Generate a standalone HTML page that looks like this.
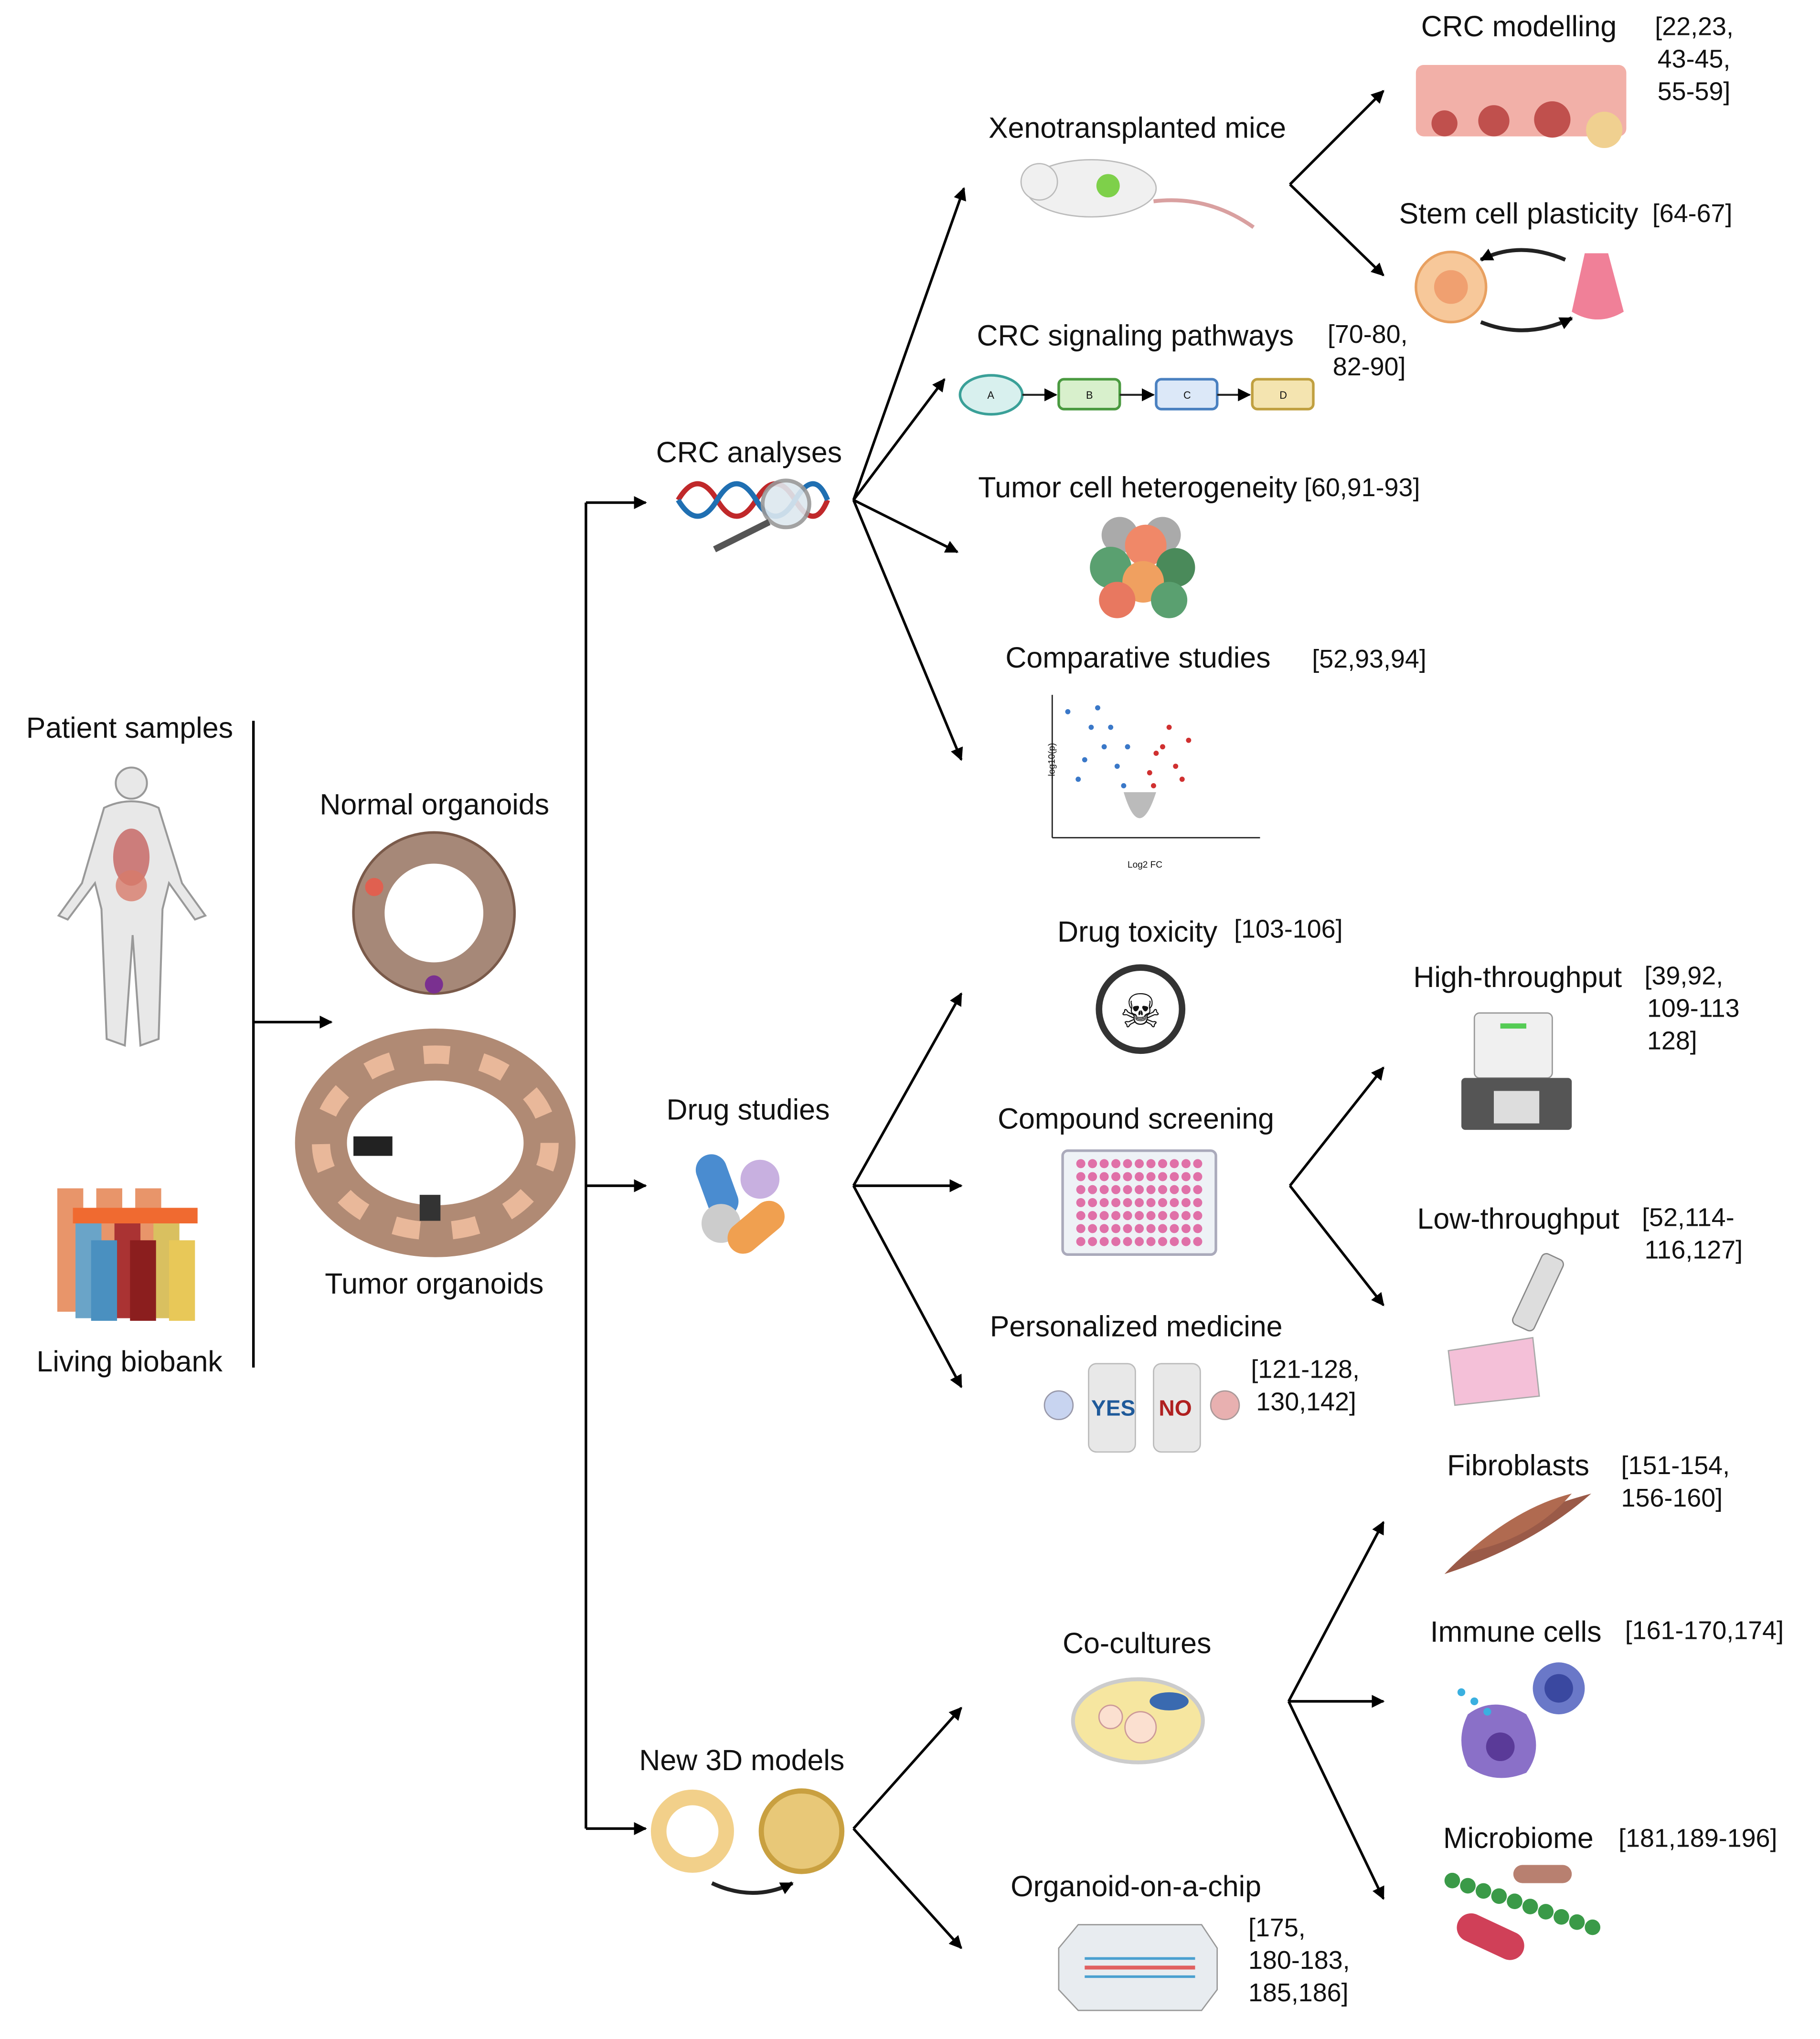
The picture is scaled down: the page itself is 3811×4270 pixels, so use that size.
<!DOCTYPE html>
<html><head><meta charset="utf-8">
<style>
html,body{margin:0;padding:0;background:#fff;}
svg{display:block;}
text{font-family:"Liberation Sans",Arial,sans-serif;fill:#111;}
</style></head>
<body>
<svg width="3811" height="4270" viewBox="0 0 1401 1570" xmlns="http://www.w3.org/2000/svg">
<defs>
<marker id="ah" markerWidth="10" markerHeight="10" refX="9" refY="5" orient="auto" markerUnits="userSpaceOnUse">
<path d="M0,0 L10,5 L0,10 z" fill="#000"/></marker>
</defs>
<g stroke="#000" stroke-width="2" fill="none">
<line x1="195" y1="555" x2="195" y2="1053"/>
<line x1="195" y1="787" x2="255" y2="787" marker-end="url(#ah)"/>
<line x1="451" y1="387" x2="451" y2="1408"/>
<line x1="451" y1="387" x2="497" y2="387" marker-end="url(#ah)"/>
<line x1="451" y1="913" x2="497" y2="913" marker-end="url(#ah)"/>
<line x1="451" y1="1408" x2="497" y2="1408" marker-end="url(#ah)"/>
<line x1="657" y1="385" x2="742" y2="145" marker-end="url(#ah)"/>
<line x1="657" y1="385" x2="727" y2="292" marker-end="url(#ah)"/>
<line x1="657" y1="385" x2="737" y2="425" marker-end="url(#ah)"/>
<line x1="657" y1="385" x2="740" y2="585" marker-end="url(#ah)"/>
<line x1="993" y1="142" x2="1065" y2="70" marker-end="url(#ah)"/>
<line x1="993" y1="142" x2="1065" y2="212" marker-end="url(#ah)"/>
<line x1="657" y1="913" x2="740" y2="765" marker-end="url(#ah)"/>
<line x1="657" y1="913" x2="740" y2="913" marker-end="url(#ah)"/>
<line x1="657" y1="913" x2="740" y2="1068" marker-end="url(#ah)"/>
<line x1="993" y1="913" x2="1065" y2="822" marker-end="url(#ah)"/>
<line x1="993" y1="913" x2="1065" y2="1005" marker-end="url(#ah)"/>
<line x1="657" y1="1408" x2="740" y2="1315" marker-end="url(#ah)"/>
<line x1="657" y1="1408" x2="740" y2="1500" marker-end="url(#ah)"/>
<line x1="992" y1="1310" x2="1065" y2="1172" marker-end="url(#ah)"/>
<line x1="992" y1="1310" x2="1065" y2="1310" marker-end="url(#ah)"/>
<line x1="992" y1="1310" x2="1065" y2="1462" marker-end="url(#ah)"/>
</g>

<g font-size="22.4">
<text x="20" y="568">Patient samples</text>
<text x="28" y="1056">Living biobank</text>
<text x="246" y="627">Normal organoids</text>
<text x="250" y="996">Tumor organoids</text>
<text x="505" y="356">CRC analyses</text>
<text x="513" y="862">Drug studies</text>
<text x="492" y="1363">New 3D models</text>
<text x="761" y="106">Xenotransplanted mice</text>
<text x="752" y="266">CRC signaling pathways</text>
<text x="753" y="383">Tumor cell heterogeneity</text>
<text x="774" y="514">Comparative studies</text>
<text x="814" y="725">Drug toxicity</text>
<text x="768" y="869">Compound screening</text>
<text x="762" y="1029">Personalized medicine</text>
<text x="818" y="1273">Co-cultures</text>
<text x="778" y="1460">Organoid-on-a-chip</text>
<text x="1094" y="28">CRC modelling</text>
<text x="1077" y="172">Stem cell plasticity</text>
<text x="1088" y="760">High-throughput</text>
<text x="1091" y="946">Low-throughput</text>
<text x="1114" y="1136">Fibroblasts</text>
<text x="1101" y="1264">Immune cells</text>
<text x="1111" y="1423">Microbiome</text>
</g>
<g font-size="19.8">
<text x="1274" y="27">[22,23,</text><text x="1276" y="52">43-45,</text><text x="1276" y="77">55-59]</text>
<text x="1272" y="171">[64-67]</text>
<text x="1022" y="264">[70-80,</text><text x="1026" y="289">82-90]</text>
<text x="1004" y="382">[60,91-93]</text>
<text x="1010" y="514">[52,93,94]</text>
<text x="950" y="722">[103-106]</text>
<text x="1266" y="758">[39,92,</text><text x="1268" y="783">109-113</text><text x="1268" y="808">128]</text>
<text x="1264" y="944">[52,114-</text><text x="1266" y="969">116,127]</text>
<text x="963" y="1061">[121-128,</text><text x="967" y="1086">130,142]</text>
<text x="1248" y="1135">[151-154,</text><text x="1248" y="1160">156-160]</text>
<text x="1251" y="1262">[161-170,174]</text>
<text x="1246" y="1422">[181,189-196]</text>
<text x="961" y="1491">[175,</text><text x="961" y="1516">180-183,</text><text x="961" y="1541">185,186]</text>
</g>

<!-- human -->
<g fill="#e8e8e8" stroke="#999" stroke-width="1.5">
<circle cx="101" cy="603" r="12"/>
<path d="M80,622 Q101,612 122,622 L140,680 L158,705 L150,708 L130,680 L125,700 L122,800 L108,805 L102,720 L96,805 L82,800 L78,700 L73,680 L52,708 L45,705 L63,680 Z"/>
</g>
<ellipse cx="101" cy="660" rx="14" ry="22" fill="#c0504d" opacity="0.7"/>
<ellipse cx="101" cy="682" rx="12" ry="12" fill="#d77a6a" opacity="0.8"/>
<!-- tubes -->
<g>
<rect x="44" y="915" width="20" height="95" fill="#e8956a"/><rect x="74" y="915" width="20" height="95" fill="#e8956a"/><rect x="104" y="915" width="20" height="95" fill="#e8956a"/>
<rect x="58" y="940" width="20" height="75" fill="#6aa4c8"/><rect x="88" y="940" width="20" height="75" fill="#a33"/><rect x="118" y="940" width="20" height="75" fill="#d9c060"/>
<rect x="70" y="955" width="20" height="62" fill="#4a90c0"/><rect x="100" y="955" width="20" height="62" fill="#8b1e1e"/><rect x="130" y="955" width="20" height="62" fill="#e8c858"/>
<rect x="56" y="930" width="96" height="12" fill="#f06a30"/>
</g>
<!-- normal organoid -->
<circle cx="334" cy="703" r="50" fill="none" stroke="#a68878" stroke-width="24"/>
<circle cx="334" cy="703" r="62" fill="none" stroke="#7a5a4a" stroke-width="2"/>
<circle cx="288" cy="683" r="7" fill="#e06050"/><circle cx="334" cy="758" r="7" fill="#7a3090"/>
<!-- tumor organoid -->
<ellipse cx="335" cy="880" rx="88" ry="68" fill="none" stroke="#b08a74" stroke-width="40"/>
<ellipse cx="335" cy="880" rx="88" ry="68" fill="none" stroke="#e9b89a" stroke-width="14" stroke-dasharray="20 25"/>
<rect x="272" y="875" width="30" height="15" fill="#222"/><rect x="323" y="920" width="16" height="20" fill="#333"/>

<!-- DNA -->
<path d="M522,385 q15,-25 30,0 t30,0 t30,0 t25,0" fill="none" stroke="#c0282a" stroke-width="4"/>
<path d="M522,385 q15,25 30,0 t30,0 t30,0 t25,0" fill="none" stroke="#1f6fb2" stroke-width="4"/>
<circle cx="605" cy="388" r="18" fill="#dde8ef" stroke="#999" stroke-width="3" opacity="0.9"/>
<line x1="592" y1="402" x2="550" y2="423" stroke="#555" stroke-width="5"/>
<!-- pills -->
<rect x="540" y="888" width="24" height="50" rx="12" fill="#4a8cd0" transform="rotate(-20 552 913)"/>
<circle cx="585" cy="908" r="15" fill="#c8b0e0"/>
<circle cx="555" cy="942" r="15" fill="#ccc"/>
<rect x="570" y="920" width="24" height="50" rx="12" fill="#f0a050" transform="rotate(50 582 945)"/>
<!-- 3D models -->
<circle cx="533" cy="1410" r="26" fill="none" stroke="#f2d08a" stroke-width="12"/>
<circle cx="617" cy="1410" r="31" fill="#e8c878" stroke="#c9a040" stroke-width="4"/>
<path d="M548,1450 Q580,1465 610,1450" fill="none" stroke="#222" stroke-width="3" marker-end="url(#ah)"/>

<!-- mouse -->
<ellipse cx="840" cy="145" rx="50" ry="22" fill="#f0f0f0" stroke="#bbb"/>
<circle cx="800" cy="140" r="14" fill="#f0f0f0" stroke="#bbb"/>
<circle cx="853" cy="143" r="9" fill="#7ed04a"/>
<path d="M888,155 Q930,150 965,175" fill="none" stroke="#d9a0a0" stroke-width="3"/>
<!-- CRC modelling -->
<rect x="1090" y="50" width="162" height="55" rx="6" fill="#f2b0a8"/>
<g fill="#c0504d"><circle cx="1112" cy="95" r="10"/><circle cx="1150" cy="93" r="12"/><circle cx="1195" cy="92" r="14"/></g>
<circle cx="1235" cy="100" r="14" fill="#f0d090"/>
<!-- stem cell -->
<circle cx="1117" cy="221" r="27" fill="#f7c89a" stroke="#e8a060" stroke-width="2"/><circle cx="1117" cy="221" r="13" fill="#f0a070"/>
<path d="M1220,195 L1238,195 L1250,240 Q1230,252 1210,240 Z" fill="#f08098"/>
<path d="M1205,200 Q1170,185 1140,200" fill="none" stroke="#222" stroke-width="3" marker-end="url(#ah)"/>
<path d="M1140,248 Q1175,262 1210,245" fill="none" stroke="#222" stroke-width="3" marker-end="url(#ah)"/>
<!-- pathway -->
<ellipse cx="763" cy="304" rx="24" ry="15" fill="#d8f0ee" stroke="#3aa098" stroke-width="2"/>
<rect x="815" y="292" width="47" height="23" rx="4" fill="#d8f0cc" stroke="#4a9a40" stroke-width="2"/>
<rect x="890" y="292" width="47" height="23" rx="4" fill="#dce8f8" stroke="#4a80c0" stroke-width="2"/>
<rect x="964" y="292" width="47" height="23" rx="4" fill="#f4e4b0" stroke="#c0a040" stroke-width="2"/>
<g stroke="#222" stroke-width="1.5"><line x1="787" y1="304" x2="813" y2="304" marker-end="url(#ah)"/><line x1="862" y1="304" x2="888" y2="304" marker-end="url(#ah)"/><line x1="937" y1="304" x2="962" y2="304" marker-end="url(#ah)"/></g>
<g font-size="8"><text x="760" y="307">A</text><text x="836" y="307">B</text><text x="911" y="307">C</text><text x="985" y="307">D</text></g>
<!-- heterogeneity -->
<g><circle cx="862" cy="412" r="14" fill="#aaa"/><circle cx="895" cy="412" r="14" fill="#aaa"/><circle cx="855" cy="437" r="16" fill="#5aa070"/><circle cx="882" cy="420" r="16" fill="#f08868"/><circle cx="905" cy="437" r="15" fill="#4a8a5a"/><circle cx="880" cy="448" r="16" fill="#f0a060"/><circle cx="860" cy="462" r="14" fill="#e87860"/><circle cx="900" cy="462" r="14" fill="#5aa070"/></g>
<!-- volcano -->
<g stroke="#222" stroke-width="1"><line x1="810" y1="535" x2="810" y2="645"/><line x1="810" y1="645" x2="970" y2="645"/></g>
<g fill="#3a78c8"><circle cx="840" cy="560" r="2"/><circle cx="850" cy="575" r="2"/><circle cx="860" cy="590" r="2"/><circle cx="830" cy="600" r="2"/><circle cx="845" cy="545" r="2"/><circle cx="865" cy="605" r="2"/><circle cx="855" cy="560" r="2"/><circle cx="835" cy="585" r="2"/><circle cx="868" cy="575" r="2"/><circle cx="822" cy="548" r="2"/></g>
<g fill="#d03030"><circle cx="890" cy="580" r="2"/><circle cx="900" cy="560" r="2"/><circle cx="910" cy="600" r="2"/><circle cx="885" cy="595" r="2"/><circle cx="895" cy="575" r="2"/><circle cx="915" cy="570" r="2"/><circle cx="905" cy="590" r="2"/><circle cx="888" cy="605" r="2"/></g>
<path d="M865,610 Q877,650 890,610" fill="#bbb"/>
<g font-size="7"><text x="868" y="668">Log2 FC</text><text x="782" y="610" transform="rotate(-90 792 590)">-log10(p)</text></g>
<!-- skull -->
<circle cx="878" cy="777" r="32" fill="#fff" stroke="#333" stroke-width="5"/>
<text x="878" y="791" font-size="36" text-anchor="middle">☠</text>
<!-- plate -->
<rect x="818" y="886" width="118" height="80" rx="4" fill="#eef2f6" stroke="#aab" stroke-width="2"/>
<g fill="#e070a8">
<circle cx="832" cy="896" r="3.5"/><circle cx="841" cy="896" r="3.5"/><circle cx="850" cy="896" r="3.5"/><circle cx="859" cy="896" r="3.5"/><circle cx="868" cy="896" r="3.5"/><circle cx="877" cy="896" r="3.5"/><circle cx="886" cy="896" r="3.5"/><circle cx="895" cy="896" r="3.5"/><circle cx="904" cy="896" r="3.5"/><circle cx="913" cy="896" r="3.5"/><circle cx="922" cy="896" r="3.5"/>
<circle cx="832" cy="906" r="3.5"/><circle cx="841" cy="906" r="3.5"/><circle cx="850" cy="906" r="3.5"/><circle cx="859" cy="906" r="3.5"/><circle cx="868" cy="906" r="3.5"/><circle cx="877" cy="906" r="3.5"/><circle cx="886" cy="906" r="3.5"/><circle cx="895" cy="906" r="3.5"/><circle cx="904" cy="906" r="3.5"/><circle cx="913" cy="906" r="3.5"/><circle cx="922" cy="906" r="3.5"/>
<circle cx="832" cy="916" r="3.5"/><circle cx="841" cy="916" r="3.5"/><circle cx="850" cy="916" r="3.5"/><circle cx="859" cy="916" r="3.5"/><circle cx="868" cy="916" r="3.5"/><circle cx="877" cy="916" r="3.5"/><circle cx="886" cy="916" r="3.5"/><circle cx="895" cy="916" r="3.5"/><circle cx="904" cy="916" r="3.5"/><circle cx="913" cy="916" r="3.5"/><circle cx="922" cy="916" r="3.5"/>
<circle cx="832" cy="926" r="3.5"/><circle cx="841" cy="926" r="3.5"/><circle cx="850" cy="926" r="3.5"/><circle cx="859" cy="926" r="3.5"/><circle cx="868" cy="926" r="3.5"/><circle cx="877" cy="926" r="3.5"/><circle cx="886" cy="926" r="3.5"/><circle cx="895" cy="926" r="3.5"/><circle cx="904" cy="926" r="3.5"/><circle cx="913" cy="926" r="3.5"/><circle cx="922" cy="926" r="3.5"/>
<circle cx="832" cy="936" r="3.5"/><circle cx="841" cy="936" r="3.5"/><circle cx="850" cy="936" r="3.5"/><circle cx="859" cy="936" r="3.5"/><circle cx="868" cy="936" r="3.5"/><circle cx="877" cy="936" r="3.5"/><circle cx="886" cy="936" r="3.5"/><circle cx="895" cy="936" r="3.5"/><circle cx="904" cy="936" r="3.5"/><circle cx="913" cy="936" r="3.5"/><circle cx="922" cy="936" r="3.5"/>
<circle cx="832" cy="946" r="3.5"/><circle cx="841" cy="946" r="3.5"/><circle cx="850" cy="946" r="3.5"/><circle cx="859" cy="946" r="3.5"/><circle cx="868" cy="946" r="3.5"/><circle cx="877" cy="946" r="3.5"/><circle cx="886" cy="946" r="3.5"/><circle cx="895" cy="946" r="3.5"/><circle cx="904" cy="946" r="3.5"/><circle cx="913" cy="946" r="3.5"/><circle cx="922" cy="946" r="3.5"/>
<circle cx="832" cy="956" r="3.5"/><circle cx="841" cy="956" r="3.5"/><circle cx="850" cy="956" r="3.5"/><circle cx="859" cy="956" r="3.5"/><circle cx="868" cy="956" r="3.5"/><circle cx="877" cy="956" r="3.5"/><circle cx="886" cy="956" r="3.5"/><circle cx="895" cy="956" r="3.5"/><circle cx="904" cy="956" r="3.5"/><circle cx="913" cy="956" r="3.5"/><circle cx="922" cy="956" r="3.5"/>
</g>
<!-- yes/no -->
<circle cx="815" cy="1082" r="11" fill="#c8d4f0" stroke="#99a"/>
<rect x="838" y="1050" width="36" height="68" rx="6" fill="#e8e8e8" stroke="#bbb"/>
<rect x="888" y="1050" width="36" height="68" rx="6" fill="#e8e8e8" stroke="#bbb"/>
<text x="840" y="1090" font-size="17" font-weight="bold" style="fill:#1f5a9a">YES</text>
<text x="892" y="1090" font-size="17" font-weight="bold" style="fill:#b02020">NO</text>
<circle cx="943" cy="1082" r="11" fill="#e8b0b0" stroke="#a99"/>
<!-- high throughput -->
<rect x="1135" y="780" width="60" height="50" rx="4" fill="#f0f0f0" stroke="#999"/>
<rect x="1125" y="830" width="85" height="40" rx="3" fill="#555"/>
<rect x="1150" y="840" width="35" height="25" fill="#ddd"/>
<rect x="1155" y="788" width="20" height="4" fill="#5c5"/>
<!-- low throughput -->
<path d="M1115,1040 L1180,1030 L1185,1075 L1120,1082 Z" fill="#f4c0d8" stroke="#aaa"/>
<rect x="1175" y="965" width="18" height="60" rx="4" fill="#ddd" stroke="#888" transform="rotate(25 1184 995)"/>
<!-- petri -->
<ellipse cx="876" cy="1325" rx="50" ry="32" fill="#f6e6a0" stroke="#ccc" stroke-width="3"/>
<circle cx="855" cy="1322" r="9" fill="#fbe0d0" stroke="#c99"/><circle cx="878" cy="1330" r="12" fill="#fbe0d0" stroke="#c99"/>
<ellipse cx="900" cy="1310" rx="15" ry="7" fill="#3a6ab0"/>
<!-- chip -->
<path d="M830,1482 L925,1482 L937,1500 L937,1532 L925,1548 L830,1548 L815,1532 L815,1500 Z" fill="#e8ecf0" stroke="#999"/>
<line x1="835" y1="1515" x2="920" y2="1515" stroke="#e06060" stroke-width="3"/>
<line x1="835" y1="1508" x2="920" y2="1508" stroke="#4aa0d0" stroke-width="2"/>
<line x1="835" y1="1522" x2="920" y2="1522" stroke="#4aa0d0" stroke-width="2"/>
<!-- fibroblasts -->
<path d="M1112,1212 Q1150,1170 1225,1150 Q1180,1190 1112,1212 Z" fill="#9a5a48"/>
<path d="M1130,1195 Q1170,1160 1210,1150 Q1180,1185 1130,1195 Z" fill="#b06a50"/>
<!-- immune -->
<circle cx="1200" cy="1300" r="20" fill="#6a78c8"/><circle cx="1200" cy="1300" r="11" fill="#3a48a0"/>
<path d="M1130,1320 Q1150,1305 1175,1320 Q1190,1345 1175,1365 Q1150,1375 1130,1360 Q1120,1340 1130,1320 Z" fill="#8a70c8"/>
<circle cx="1155" cy="1345" r="11" fill="#5a3a98"/>
<g fill="#3ab0e0"><circle cx="1125" cy="1303" r="3"/><circle cx="1135" cy="1310" r="3"/><circle cx="1145" cy="1318" r="3"/></g>
<!-- microbiome -->
<g fill="#3a9a48"><circle cx="1118" cy="1448" r="6"/><circle cx="1130" cy="1452" r="6"/><circle cx="1142" cy="1456" r="6"/><circle cx="1154" cy="1460" r="6"/><circle cx="1166" cy="1464" r="6"/><circle cx="1178" cy="1468" r="6"/><circle cx="1190" cy="1472" r="6"/><circle cx="1202" cy="1476" r="6"/><circle cx="1214" cy="1480" r="6"/><circle cx="1226" cy="1484" r="6"/></g>
<rect x="1165" y="1436" width="45" height="14" rx="7" fill="#b88070"/>
<rect x="1120" y="1480" width="55" height="22" rx="11" fill="#d04058" transform="rotate(25 1147 1491)"/>
</svg>
</body></html>
